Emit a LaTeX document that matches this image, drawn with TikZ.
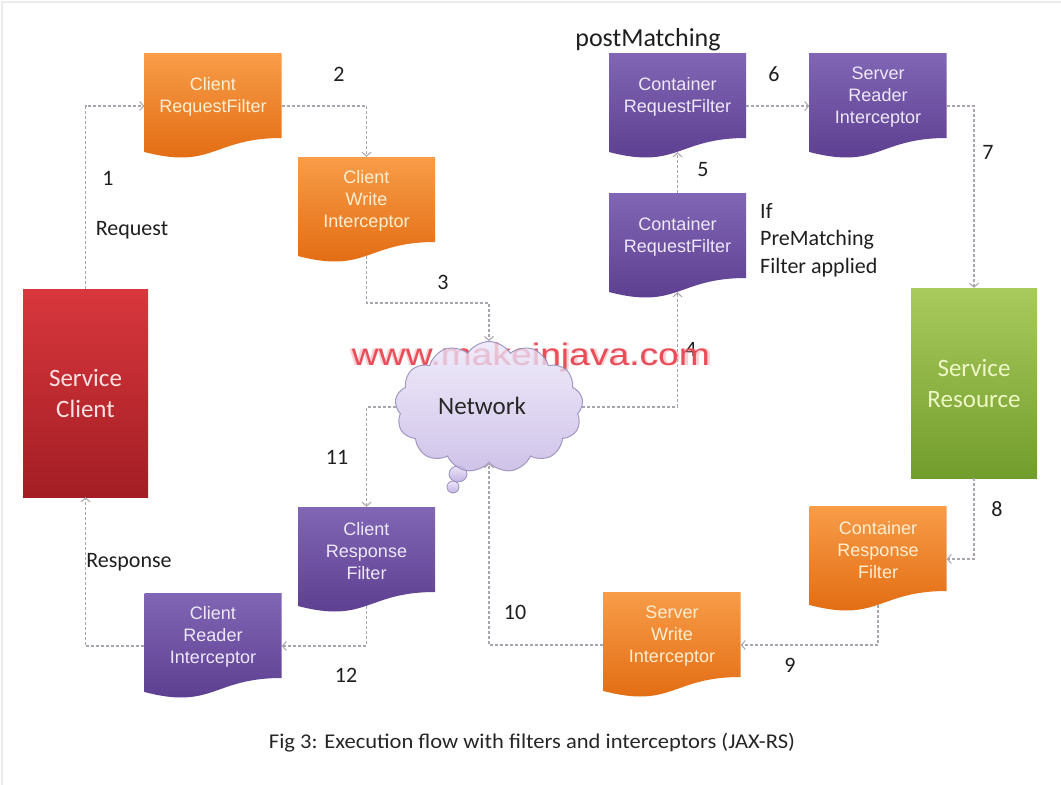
\documentclass[tikz,border=0pt]{standalone}
\usepackage{fontspec}
\usepackage{graphicx}
\setmainfont{Carlito}
\newfontfamily\arialf{Liberation Sans}
\usetikzlibrary{arrows.meta,shapes.symbols,calc}

\definecolor{orTop}{HTML}{F89C48}
\definecolor{orBot}{HTML}{E0680E}
\definecolor{puTop}{HTML}{8166B5}
\definecolor{puBot}{HTML}{5A3B8D}
\definecolor{rdTop}{HTML}{D8373D}
\definecolor{rdBot}{HTML}{A31E24}
\definecolor{grTop}{HTML}{A9CA5C}
\definecolor{grBot}{HTML}{729D2D}
\definecolor{orTxt}{HTML}{FFEFD2}
\definecolor{puTxt}{HTML}{EEE8F8}
\definecolor{rdTxt}{HTML}{FCE2E2}
\definecolor{grTxt}{HTML}{EEF7C6}
\definecolor{lnCol}{HTML}{A9A4AD}
\definecolor{wmRed}{HTML}{E84652}
\definecolor{wmGlow}{HTML}{F39AA4}
\definecolor{cloudTop}{HTML}{ECE6F9}
\definecolor{cloudBot}{HTML}{C2B3E3}
\definecolor{cloudLine}{HTML}{9A90BC}

\tikzset{
  orangedoc/.style={top color=orTop, bottom color=orBot},
  purpledoc/.style={top color=puTop, bottom color=puBot},
  orangetxt/.style={text=orTxt, font=\arialf\fontsize{18}{22}\selectfont, align=center, inner sep=0pt},
  purpletxt/.style={text=puTxt, font=\arialf\fontsize{18}{22}\selectfont, align=center, inner sep=0pt},
  docnode/.style={minimum width=137pt, minimum height=106pt, inner sep=0pt},
  flow/.style={draw=lnCol, line width=1.5pt, dash pattern=on 3pt off 2pt,
    -{Straight Barb[length=4pt,width=9pt,line width=1pt]}},
  lbl/.style={font=\fontsize{22}{27.5}\selectfont, text=black!88, inner sep=0pt},
  wm/.style={font=\arialf\fontsize{31}{31}\selectfont, inner sep=0pt},
  bigbox/.style={font=\fontsize{25}{31}\selectfont, align=center, inner sep=0pt},
}

\newcommand{\docbox}[5]{%
  \shade[#4doc] ({#2-68.5},#3) -- ({#2+68.5},#3) -- ({#2+68.5},{#3+85})
    .. controls (#2,{#3+85}) and (#2,{#3+117}) .. ({#2-68.5},{#3+99}) -- cycle;
  \node[docnode, label={[#4txt, yshift=9pt]center:{#5}}] (#1) at (#2,{#3+53}) {};
}

\begin{document}
\begin{tikzpicture}[x=1pt,y=-1pt]
\useasboundingbox (0,0) rectangle (1061,785);
\fill[white] (0,0) rectangle (1061,785);
\draw[black!8, line width=2.5pt] (2,785) -- (2,2) -- (1061,2);

% label 4 (partly under the watermark)
\node[lbl] (l4) at (691,349) {4};

% watermark with soft glow
\node[wm, text=wmGlow, text opacity=0.45, font=\bfseries\arialf\fontsize{31}{31}\selectfont] (wmg) at (531,357)
  {\resizebox{362pt}{\height}{www.makeinjava.com}};
\node[wm, text=wmRed, text opacity=0.95] (wm) at (531,357) {\resizebox{358pt}{\height}{www.makeinjava.com}};

% cloud tail
\shade[top color=cloudTop, bottom color=cloudBot, draw=cloudLine, line width=0.8pt]
  (453,487) ellipse (6pt and 6pt);
\shade[top color=cloudTop, bottom color=cloudBot, draw=cloudLine, line width=0.8pt]
  (458,474) ellipse (9pt and 8pt);
% cloud
\node[cloud, cloud puffs=13, cloud puff arc=115, cloud ignores aspect,
  minimum width=188pt, minimum height=131pt, inner sep=0pt,
  draw=cloudLine, line width=1pt, top color=cloudTop, bottom color=cloudBot,
  fill opacity=0.78, draw opacity=0.9, text opacity=1,
  font=\fontsize{25}{25}\selectfont, text=black!85] (net) at (489,407)
  {\hspace*{-14pt}\raisebox{3pt}{Network}};

% documents
\docbox{CRF}{213}{53}{orange}{Client\\RequestFilter}
\docbox{CWI}{366.5}{157}{orange}{Client\\Write\\Interceptor}
\docbox{CtRFpost}{677.5}{53}{purple}{Container\\RequestFilter}
\docbox{SRI}{878}{53}{purple}{Server\\Reader\\Interceptor}
\docbox{CtRFpre}{677.5}{193}{purple}{Container\\RequestFilter}
\docbox{CRsF}{366.5}{507}{purple}{Client\\Response\\Filter}
\docbox{CRI}{213}{593}{purple}{Client\\Reader\\Interceptor}
\docbox{CtRsF}{878}{506}{orange}{Container\\Response\\Filter}
\docbox{SWI}{672}{592}{orange}{Server\\Write\\Interceptor}

% service boxes
\node[bigbox, top color=rdTop, bottom color=rdBot, text=rdTxt,
  minimum width=125pt, minimum height=208pt] (SC) at (85.5,393) {Service\\Client};
\node[bigbox, top color=grTop, bottom color=grBot, text=grTxt,
  minimum width=126pt, minimum height=190pt] (SR) at (974,383) {Service\\Resource};

% connectors
\coordinate (c3) at (489,303);
\draw[flow] (SC.north) |- (CRF.west);
\draw[flow] (CRF.east) -| (CWI.north);
\draw[flow] ([yshift=7pt]CWI.south) |- (c3) -- (net.north);
\draw[flow] (net.east) -| ([yshift=7pt]CtRFpre.south);
\draw[flow] (CtRFpre.north) -- ([yshift=7pt]CtRFpost.south);
\draw[flow] (CtRFpost.east) -- (SRI.west);
\draw[flow] (SRI.east) -| (SR.north);
\draw[flow] (SR.south) |- (CtRsF.east);
\draw[flow] ([yshift=7pt]CtRsF.south) |- (SWI.east);
\draw[flow] (SWI.west) -| (net.south);
\draw[flow] (net.west) -| (CRsF.north);
\draw[flow] ([yshift=7pt]CRsF.south) |- (CRI.east);
\draw[flow] (CRI.west) -| (SC.south);

% labels
\node[lbl] (l1) at (108,178) {1};
\node[lbl] (lreq) at (132,230) {Request};
\node[lbl] (l2) at (339,74) {2};
\node[lbl] (l3) at (443,282) {3};
\node[lbl] (l5) at (703,170) {5};
\node[lbl] (l6) at (774,74) {6};
\node[lbl] (l7) at (988,152) {7};
\node[lbl] (l8) at (997,509) {8};
\node[lbl] (l9) at (790,665) {9};
\node[lbl] (l10) at (515,612) {10};
\node[lbl] (l11) at (337,457) {11};
\node[lbl] (l12) at (346,675) {12};
\node[lbl] (lresp) at (129,562) {Response};
\node[lbl, font=\fontsize{26}{26}\selectfont] (lpost) at (648,40) {postMatching};
\node[lbl, align=left, anchor=west] (lpre) at (760,240) {If\\PreMatching\\Filter applied};

% caption
\node[font=\fontsize{21}{21}\selectfont, text=black!85, inner sep=0pt] (cap) at (532,743)
  {\resizebox{526pt}{\height}{Fig 3: Execution flow with filters and interceptors (JAX-RS)}};
\end{tikzpicture}
\end{document}
